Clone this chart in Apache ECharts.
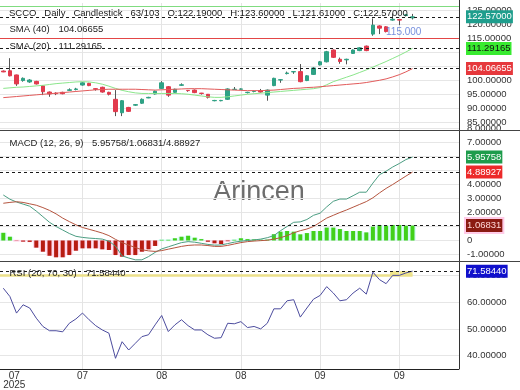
<!DOCTYPE html>
<html>
<head>
<meta charset="utf-8">
<script src="https://cdn.jsdelivr.net/npm/echarts@6.0.0/dist/echarts.min.js"></script>
<style>
html,body{margin:0;padding:0;background:#ffffff;}
#chart{width:520px;height:390px;}
</style>
</head>
<body>
<div id="chart"></div>
<script>
// ---------------- data ----------------
const opens  = [103.2,103.3,101.8,99.8,99.3,99.5,97.9,95.7,95.3,95.6,96.3,96.6,98.2,98.8,96.9,97.4,95.6,93.1,88.3,90.2,91.0,91.7,93.6,95.0,97.0,97.6,95.6,98.1,96.3,96.4,95.3,94.9,92.6,92.6,93.1,96.6,96.7,95.5,95.9,96.2,94.6,98.0,100.0,102.3,102.9,103.0,99.8,102.0,105.4,106.5,110.7,107.4,107.2,109.5,110.5,112.1,116.4,119.3,119.0,121.4,121.6,123.0,122.19];
const closes = [102.9,101.5,98.6,100.6,100.0,98.6,95.8,95.0,95.1,95.1,96.5,96.8,99.0,98.0,96.7,95.7,94.9,88.7,92.6,88.8,91.2,93.1,93.8,96.0,99.0,94.6,96.7,98.3,96.2,95.5,95.2,93.8,92.7,92.7,96.8,96.7,96.8,95.6,96.0,95.7,96.4,100.6,100.1,102.5,103.0,99.4,101.5,104.3,106.5,110.1,108.1,106.6,107.4,110.7,111.5,110.5,119.6,118.5,117.3,121.7,121.4,123.3,122.57];
const lows   = [102.8,101.3,97.9,99.4,99.0,98.4,94.6,94.0,94.6,94.9,96.2,96.3,98.0,97.8,96.2,95.5,94.5,87.1,87.1,88.6,90.8,91.5,93.5,94.8,96.8,94.0,95.4,97.9,95.8,95.3,94.8,93.4,92.4,92.4,92.9,96.5,96.5,95.2,95.6,95.5,92.6,97.8,99.0,102.0,102.2,99.2,99.6,101.8,105.2,106.3,107.9,105.8,105.6,109.3,110.3,110.3,115.8,116.4,117.0,121.2,119.6,122.7,121.61];
const highs  = [103.4,107.8,101.9,100.9,100.3,99.7,98.1,95.9,95.6,95.8,97.0,97.2,99.2,99.0,97.0,97.6,95.8,96.4,92.8,90.4,91.4,93.4,94.0,96.2,99.6,97.8,96.9,98.8,96.4,96.6,95.4,95.0,92.9,92.9,97.0,97.5,97.0,95.8,96.2,96.8,96.6,100.8,100.3,103.0,103.2,105.7,101.7,104.6,106.8,110.4,110.9,108.0,107.6,110.9,111.7,112.3,122.0,119.5,119.2,123.8,121.8,123.6,123.6];
const sma20  = [97.0,97.2,97.4,97.5,97.7,97.9,98.1,98.4,98.7,98.9,99.1,99.3,99.4,99.3,99.0,98.5,97.8,97.0,96.3,95.8,95.4,95.2,95.2,95.2,95.2,95.2,95.2,95.1,94.9,94.6,94.3,94.0,93.8,93.8,94.0,94.3,94.6,94.9,95.1,95.3,95.5,95.7,95.9,96.1,96.3,96.5,96.7,96.9,97.3,98.3,99.4,100.2,101.0,101.8,102.7,103.6,104.6,105.6,106.6,107.7,108.8,110.0,111.29165];
const sma40  = [93.7,93.9,94.1,94.3,94.5,94.7,94.9,95.1,95.3,95.5,95.7,95.9,96.1,96.3,96.5,96.6,96.7,96.7,96.7,96.7,96.7,96.6,96.5,96.4,96.5,96.6,96.7,96.8,96.9,96.9,96.9,96.8,96.7,96.6,96.5,96.4,96.3,96.2,96.2,96.2,96.3,96.4,96.6,96.8,97.0,97.1,97.3,97.4,97.6,97.8,98.0,98.2,98.4,98.6,98.8,99.1,99.5,99.9,100.4,101.1,101.9,102.9,104.06655];
const macdLine   = [3.25,2.95,2.75,2.6,2.45,2.1,1.7,1.3,1.0,0.75,0.5,0.3,0.22,0.17,0.14,0.1,-0.05,-0.4,-1.1,-1.25,-1.38,-1.38,-1.15,-0.85,-0.6,-0.45,-0.3,-0.15,-0.08,-0.12,-0.2,-0.28,-0.33,-0.32,-0.22,-0.12,-0.05,0.0,0.04,0.1,0.2,0.35,0.7,1.0,1.3,1.33,1.5,1.8,1.95,2.4,2.8,2.96,2.96,3.2,3.45,3.45,4.1,4.7,4.95,5.25,5.5,5.78,5.95758];
const signalLine = [2.66,2.72,2.77,2.72,2.62,2.52,2.35,2.15,1.9,1.6,1.35,1.12,0.93,0.8,0.67,0.53,0.35,0.08,-0.15,-0.33,-0.5,-0.66,-0.74,-0.78,-0.72,-0.62,-0.52,-0.42,-0.35,-0.32,-0.32,-0.36,-0.42,-0.42,-0.35,-0.25,-0.15,-0.08,-0.04,-0.01,0.02,0.1,0.2,0.35,0.55,0.7,0.82,1.0,1.3,1.6,1.8,2.0,2.18,2.38,2.58,2.78,3.05,3.4,3.72,4.0,4.3,4.6,4.88927];
const macdHist   = [0.55,0.27,-0.02,-0.08,-0.1,-0.51,-0.8,-1.09,-1.2,-1.2,-1.04,-0.73,-0.56,-0.56,-0.56,-0.63,-0.68,-1.04,-1.16,-1.04,-1.04,-0.8,-0.63,-0.39,0.05,0.05,0.16,0.27,0.34,0.2,0.1,-0.09,-0.2,-0.25,-0.05,0.05,0.16,0.1,0.08,0.06,0.06,0.45,0.63,0.68,0.63,0.44,0.53,0.68,0.68,0.92,0.92,0.82,0.68,0.68,0.68,0.58,0.99,1.11,1.06,1.11,1.11,1.06,1.06831];
const rsi = [65.2,62.1,55.9,59.0,57.8,54.0,50.9,49.3,49.3,48.9,52.1,53.7,55.9,53.4,51.2,49.6,48.4,39.0,45.2,42.1,44.6,47.1,47.8,51.5,55.0,49.0,51.5,53.4,51.2,49.6,49.6,47.8,46.5,46.7,52.1,51.9,52.7,50.5,50.9,50.0,52.1,57.5,57.5,60.5,60.9,54.4,57.8,61.1,62.5,65.8,63.4,60.5,60.9,63.4,65.2,63.0,71.2,68.4,66.9,70.0,70.0,70.9,71.5844];
const xTickIdx    = [0, 12, 24, 36, 48, 60];
const xTickLabels = ['07', '07', '08', '08', '09', '09'];
const yearLabel   = '2025';
const resistanceLevel = 115;
const topLevel = 126.4;
const rsiLevel = 70;
const rsiFillStart = 58.6;
const symbolName = 'SCCO', period = 'Daily', chartKind = 'Candlestick', barsInfo = '63/103';

// ---------------- helpers ----------------
const FONT = '"Liberation Sans", Arial, sans-serif';
const last = a => a[a.length - 1];
const idx = opens.map((_, i) => i);
const pair = a => a.map((v, i) => [i, v]);
const candleFull = idx.map(i => [i, opens[i], closes[i], lows[i], highs[i]]);
const candleBody = idx.map(i => [i, opens[i], closes[i], Math.min(opens[i], closes[i]), Math.max(opens[i], closes[i])]);
const UP = '#2ea285', DOWN = '#e23a4d', WICK = '#555555';
const dashed = { color: '#1a1a1a', type: [3, 3], width: 1 };

function endBox(v, bg, fg, border) {
  return {
    show: true, position: 'end', distance: 7,
    formatter: () => v.toFixed(5),
    backgroundColor: bg, color: fg, fontSize: 9.5, fontFamily: FONT,
    padding: [2, 1, 1, 1],
    borderColor: border || bg, borderWidth: border ? 2 : 0
  };
}
function valueLine(v, bg, fg, border) {
  return { silent: true, symbol: 'none', animation: false, lineStyle: dashed,
           label: endBox(v, bg, fg, border), data: [{ yAxis: v }] };
}
function vGrid() {
  return { silent: true, symbol: 'none', z: 1, animation: false, label: { show: false },
           lineStyle: { color: '#e4e4e4', type: 'solid', width: 1 },
           data: xTickIdx.filter(v => v > 0).map(v => ({ xAxis: v })) };
}
function txt(x, y, s, extra) {
  return { type: 'text', x: x, y: y, z: 100, silent: true,
           style: Object.assign({ text: s, fill: '#222', font: '9.5px ' + FONT, verticalAlign: 'middle', align: 'left' }, extra || {}) };
}

const X_MIN = -0.5, X_MAX = 69.045;
const richLab = {
  s: { width: 22, fontSize: 10, lineHeight: 11, fontFamily: FONT },
  f: { width: 22, align: 'center', fontSize: 10, lineHeight: 11, color: '#333', fontFamily: FONT }
};
function xAx(grid, show, values, fmt, margin, lineShow) {
  return {
    type: 'value', gridIndex: grid, position: 'bottom', min: X_MIN, max: X_MAX, show: show,
    splitLine: { show: false }, axisTick: { show: false },
    axisLine: { show: lineShow !== false, lineStyle: { color: '#222' } },
    axisLabel: {
      show: true, customValues: values || xTickIdx, margin: margin == null ? 2 : margin,
      fontSize: 10, color: '#333', fontFamily: FONT, lineHeight: 11,
      formatter: fmt || (v => {
        const k = xTickIdx.indexOf(v);
        if (k < 0) return '';
        return k === 0 ? '{s| }{f|' + xTickLabels[0] + '}' : xTickLabels[k];
      }),
      rich: richLab
    }
  };
}
function yAx(grid, min, max, interval, fmt) {
  return {
    type: 'value', gridIndex: grid, position: 'right', min: min, max: max, interval: interval,
    axisLine: { show: false }, axisTick: { show: false },
    splitLine: { show: true, lineStyle: { color: ['rgba(0,0,0,0)', '#e6e6e6'], width: 1 } },
    axisLabel: { margin: 8, fontSize: 9.5, color: '#333', fontFamily: FONT, formatter: fmt }
  };
}

const option = {
  animation: false,
  backgroundColor: '#ffffff',
  textStyle: { fontFamily: FONT },
  grid: [
    { left: 0, right: 61, top: 3, height: 126, containLabel: false, outerBoundsMode: 'none' },
    { left: 0, right: 61, top: 128.5, height: 133, containLabel: false, outerBoundsMode: 'none' },
    { left: 0, right: 61, top: 262, height: 107, containLabel: false, outerBoundsMode: 'none' }
  ],
  xAxis: [
    xAx(0, false), xAx(1, false), xAx(2, true), xAx(1, false),
    xAx(2, true, [xTickIdx[0]], () => '{s| }{f|' + yearLabel + '}', 11, false)
  ],
  yAxis: [
    yAx(0, 82.5, 127.5, 2.5, v => (Math.abs(v % 5) < 1e-6 ? v.toFixed(5) : '')),
    yAx(1, -1.5, 8, 0.5, v => (Math.abs(v % 1) < 1e-6 ? (v === 0 ? '0' : v.toFixed(5)) : '')),
    yAx(2, 35, 75, 5, v => (Math.abs(v % 10) < 1e-6 && v < 75 ? v.toFixed(5) : ''))
  ],
  series: [
    { type: 'line', xAxisIndex: 0, yAxisIndex: 0, data: [], markLine: vGrid() },
    { type: 'line', xAxisIndex: 1, yAxisIndex: 1, data: [], markLine: vGrid() },
    { type: 'line', xAxisIndex: 2, yAxisIndex: 2, data: [], markLine: vGrid() },
    // price panel
    { type: 'candlestick', xAxisIndex: 0, yAxisIndex: 0, data: candleFull, encode: { x: 0, y: [1, 2, 3, 4] },
      barWidth: 0.01,
      itemStyle: { color: WICK, color0: WICK, borderColor: WICK, borderColor0: WICK, borderWidth: 1 },
      markLine: { silent: true, symbol: 'none', animation: false, label: { show: false },
        data: [
          { yAxis: resistanceLevel, lineStyle: { color: '#e34646', type: 'solid', width: 1 } },
          { yAxis: topLevel, lineStyle: { color: '#80dc80', type: 'solid', width: 1 } }
        ] } },
    { type: 'candlestick', xAxisIndex: 0, yAxisIndex: 0, data: candleBody, encode: { x: 0, y: [1, 2, 3, 4] },
      barWidth: 4,
      itemStyle: { color: UP, color0: DOWN, borderColor: UP, borderColor0: DOWN, borderWidth: 1 },
      markLine: valueLine(last(closes), '#1f9e8d', '#ffffff') },
    { type: 'line', xAxisIndex: 0, yAxisIndex: 0, data: pair(sma20), showSymbol: false,
      lineStyle: { color: '#8be68b', width: 1 }, markLine: valueLine(last(sma20), '#38ea30', '#111111') },
    { type: 'line', xAxisIndex: 0, yAxisIndex: 0, data: pair(sma40), showSymbol: false,
      lineStyle: { color: '#e25a5a', width: 1 }, markLine: valueLine(last(sma40), '#e6383c', '#ffffff') },
    // MACD panel
    { type: 'bar', xAxisIndex: 3, yAxisIndex: 1, barWidth: '100%', silent: true, z: 1,
      data: macdHist.map((v, i) => ({ value: [i, v], itemStyle: {
        color: v >= 0 ? '#d4fbfb' : '#ffd7ec', borderColor: v >= 0 ? '#d4fbfb' : '#ffd7ec', borderWidth: 2 } })) },
    { type: 'bar', xAxisIndex: 1, yAxisIndex: 1, barWidth: 4,
      data: macdHist.map((v, i) => ({ value: [i, v], itemStyle: { color: v >= 0 ? '#42d01a' : '#b71c12' } })),
      markLine: valueLine(last(macdHist), '#8a1a12', '#ffd6d6', '#ffcbe8') },
    { type: 'line', xAxisIndex: 1, yAxisIndex: 1, data: pair(macdLine), showSymbol: false,
      lineStyle: { color: '#4b9d82', width: 1 }, markLine: valueLine(last(macdLine), '#1e9c4c', '#ffffff') },
    { type: 'line', xAxisIndex: 1, yAxisIndex: 1, data: pair(signalLine), showSymbol: false,
      lineStyle: { color: '#b5553f', width: 1 }, markLine: valueLine(last(signalLine), '#ec2a2a', '#ffffff') },
    // RSI panel
    { type: 'line', xAxisIndex: 2, yAxisIndex: 2, data: [],
      markLine: { silent: true, symbol: 'none', z: 1, animation: false, label: { show: false },
        lineStyle: { color: '#ece08a', type: 'solid', width: 2.5 },
        data: [[{ coord: [X_MIN, rsiLevel] }, { coord: [idx.length - 1, rsiLevel] }]] },
      markArea: { silent: true, itemStyle: { color: '#f0e68c' },
        data: [[{ coord: [rsiFillStart, rsiLevel] }, { coord: [idx.length - 1, last(rsi)] }]] } },
    { type: 'line', xAxisIndex: 2, yAxisIndex: 2, data: pair(rsi), showSymbol: false,
      lineStyle: { color: '#4c4c9e', width: 1 }, markLine: valueLine(last(rsi), '#1010cc', '#ffffff') }
  ],
  graphic: [
    { type: 'text', x: 259, y: 193, z: 0, silent: true,
      style: { text: 'Arincen', font: '27px ' + FONT, fill: '#6d6d6d', align: 'center', verticalAlign: 'middle' } },
    { type: 'line', z: 100, silent: true, shape: { x1: 459.5, y1: 0, x2: 459.5, y2: 369 }, style: { stroke: '#333', lineWidth: 1 } },
    { type: 'line', z: 100, silent: true, shape: { x1: 0, y1: 130.5, x2: 520, y2: 130.5 }, style: { stroke: '#444', lineWidth: 1 } },
    { type: 'line', z: 100, silent: true, shape: { x1: 0, y1: 261.5, x2: 520, y2: 261.5 }, style: { stroke: '#444', lineWidth: 1 } },
    txt(9, 13.5, [symbolName, period, chartKind, barsInfo,
      'O:' + last(opens).toFixed(5), 'H:' + last(highs).toFixed(5),
      'L:' + last(lows).toFixed(5), 'C:' + last(closes).toFixed(5)].join('   ')),
    txt(9.5, 29.5, 'SMA (40)'), txt(58.5, 29.5, last(sma40).toFixed(5)),
    txt(9.5, 46, 'SMA (20)'), txt(58.5, 46, last(sma20).toFixed(5)),
    txt(9.5, 143, 'MACD (12, 26, 9)'),
    txt(92, 143, [last(macdLine), last(macdHist), last(signalLine)].map(v => v.toFixed(5)).join('/')),
    txt(9.5, 273.5, 'RSI (20, 70, 30)'), txt(86, 273.5, last(rsi).toFixed(5)),
    txt(386, 32, resistanceLevel.toFixed(3), { fill: 'rgba(95,125,215,0.85)', font: '10px ' + FONT })
  ]
};

const chart = echarts.init(document.getElementById('chart'), null, { renderer: 'canvas' });
chart.setOption(option);
</script>
</body>
</html>
